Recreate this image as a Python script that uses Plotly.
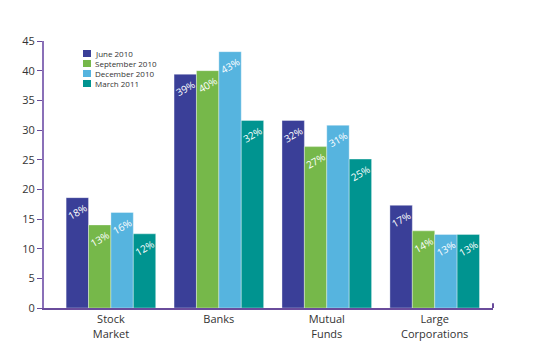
import plotly.graph_objects as go

categories = ["Stock<br>Market", "Banks", "Mutual<br>Funds", "Large<br>Corporations"]
series_names = ["June 2010", "September 2010", "December 2010", "March 2011"]
june = [18.6, 39.4, 31.6, 17.3]
sept = [14.0, 40.0, 27.2, 13.0]
dec = [16.1, 43.2, 30.8, 12.4]
mar = [12.5, 31.6, 25.1, 12.4]
june_lbl = ["18%", "39%", "32%", "17%"]
sept_lbl = ["13%", "40%", "27%", "14%"]
dec_lbl = ["16%", "43%", "31%", "13%"]
mar_lbl = ["12%", "32%", "25%", "13%"]
colors = ["#3a3f98", "#76b84a", "#56b4df", "#009490"]
y_ticks = [0, 5, 10, 15, 20, 25, 30, 35, 40, 45]

values = [june, sept, dec, mar]
labels = [june_lbl, sept_lbl, dec_lbl, mar_lbl]
xpos = list(range(len(categories)))

W, H = 540, 347
ML, MR, MT, MB = 44, 47, 41, 39
PW, PH = W - ML - MR, H - MT - MB

fig = go.Figure()
for name, vals, lbl, col in zip(series_names, values, labels, colors):
    fig.add_trace(go.Bar(
        x=xpos, y=vals, name=name, text=lbl, showlegend=False,
        marker=dict(color=col, line=dict(color="rgba(255,255,255,0.35)", width=1)),
        textposition="inside", insidetextanchor="end", textangle=-30,
        textfont=dict(color="white", size=10, family="Open Sans"),
        constraintext="none",
    ))

# manual compact legend (squares + text)
shapes = []
annotations = []
for i, (name, col) in enumerate(zip(series_names, colors)):
    cy = 53.5 + 10 * i
    shapes.append(dict(type="rect", xref="paper", yref="paper",
                       x0=(83 - ML) / PW, x1=(91 - ML) / PW,
                       y0=(MT + PH - (cy + 3.5)) / PH, y1=(MT + PH - (cy - 3.5)) / PH,
                       fillcolor=col, line=dict(width=0)))
    annotations.append(dict(xref="paper", yref="paper", x=(93 - ML) / PW,
                            y=(MT + PH - cy) / PH, xanchor="left", yanchor="middle",
                            text=name, showarrow=False,
                            font=dict(size=8, color="#333333", family="Open Sans")))
shapes.append(dict(type="line", xref="paper", yref="paper", x0=1, x1=1, y0=0, y1=0.018,
                   line=dict(color="#6a4c9c", width=2)))

fig.update_layout(
    width=W, height=H,
    margin=dict(l=ML, r=MR, t=MT, b=MB, autoexpand=False),
    paper_bgcolor="white", plot_bgcolor="white",
    barmode="group", bargap=0.17, bargroupgap=0,
    font=dict(family="Open Sans", color="#333333"),
    uniformtext=dict(mode="show", minsize=10),
    showlegend=False,
    xaxis=dict(tickvals=xpos, ticktext=categories, range=[-0.62, 3.54], automargin=False,
               showline=True, linecolor="#6a4c9c", linewidth=2, ticks="",
               showgrid=False, zeroline=False, tickfont=dict(size=11)),
    yaxis=dict(range=[0, 45], tickvals=y_ticks, showline=True, linecolor="#8a70b8",
               linewidth=2, ticks="outside", ticklen=5, tickcolor="#6a4c9c", automargin=False,
               showgrid=False, zeroline=False, tickfont=dict(size=11)),
    shapes=shapes,
    annotations=annotations,
)
fig.write_html("out.html")
